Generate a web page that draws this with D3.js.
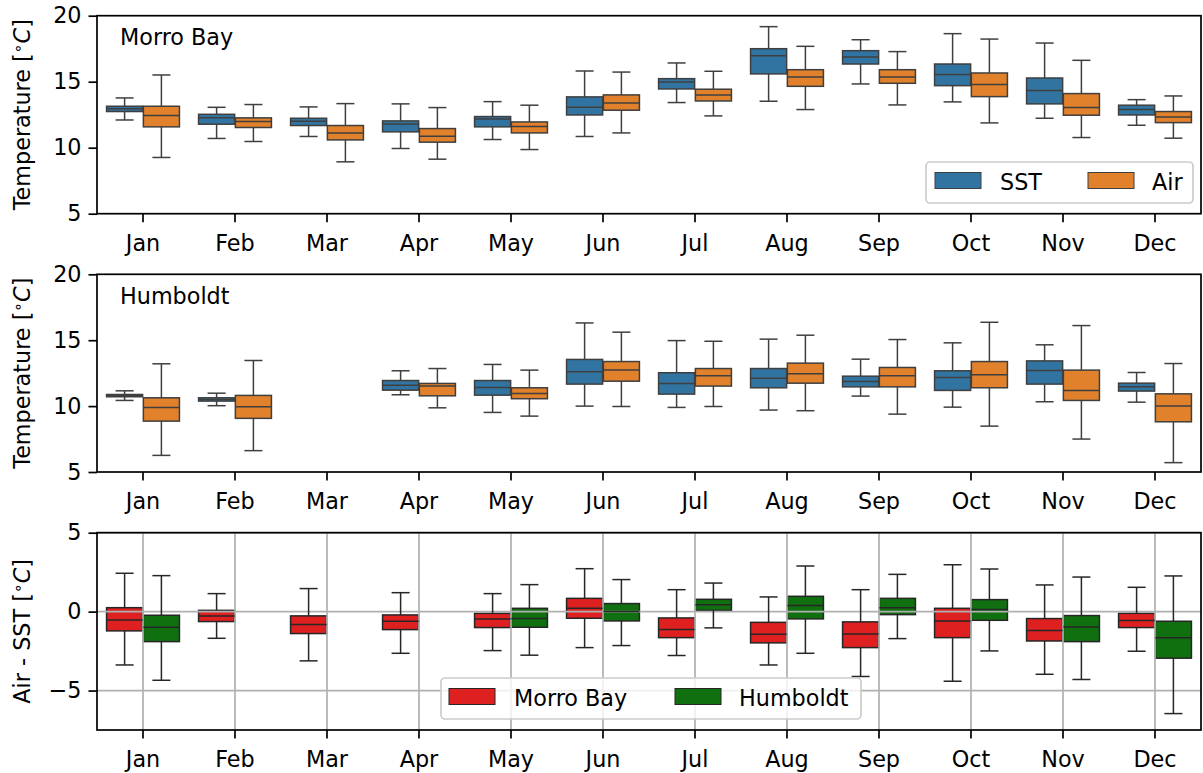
<!DOCTYPE html>
<html>
<head>
<meta charset="utf-8">
<script src="https://cdn.jsdelivr.net/npm/d3@7"></script>
<style>
  body { margin: 0; background: #fff; }
  svg { font-family: "DejaVu Sans", sans-serif; }
</style>
</head>
<body>
<svg id="viz" width="1203" height="773"></svg>
<script>
const width = 1203;
const height = 773;
const svg = d3.select("#viz");

// 月
const months = ["Jan", "Feb", "Mar", "Apr", "May", "Jun", "Jul", "Aug", "Sep", "Oct", "Nov", "Dec"];

// 箱ひげ: [下ひげ, 第1四分位, 中央値, 第3四分位, 上ひげ]
const morroSST = [
  [12.1, 12.74, 12.96, 13.14, 13.77], [10.7, 11.78, 12.26, 12.53, 13.06], [10.85, 11.68, 12.0, 12.23, 13.09],
  [9.94, 11.2, 11.8, 12.03, 13.32], [10.62, 11.58, 12.18, 12.36, 13.49], [10.85, 12.48, 13.06, 13.85, 15.81],
  [13.42, 14.45, 14.98, 15.23, 16.42], [13.52, 15.59, 16.97, 17.5, 19.17], [14.83, 16.34, 16.87, 17.35, 18.18],
  [13.47, 14.7, 15.54, 16.34, 18.64], [12.23, 13.32, 14.33, 15.28, 17.93], [11.7, 12.48, 12.89, 13.22, 13.64]
];
const morroAir = [
  [9.26, 11.58, 12.43, 13.14, 15.51], [10.47, 11.53, 11.98, 12.26, 13.27], [8.93, 10.59, 11.12, 11.68, 13.34],
  [9.13, 10.42, 10.87, 11.45, 13.04], [9.86, 11.12, 11.6, 11.95, 13.22], [11.12, 12.84, 13.39, 14.0, 15.73],
  [12.41, 13.54, 14.0, 14.43, 15.79], [12.89, 14.65, 15.36, 15.91, 17.68], [13.24, 14.88, 15.36, 15.91, 17.28],
  [11.88, 13.87, 14.78, 15.66, 18.23], [10.77, 12.46, 13.04, 14.1, 16.62], [10.72, 11.9, 12.33, 12.74, 13.92]
];
const humSST = [
  [10.43, 10.71, 10.78, 10.88, 11.16], [10.03, 10.38, 10.5, 10.63, 10.98], null,
  [10.86, 11.21, 11.59, 11.94, 12.68], [9.52, 10.83, 11.41, 11.94, 13.16], [10.0, 11.67, 12.6, 13.54, 16.31],
  [9.9, 10.91, 11.72, 12.53, 14.97], [9.7, 11.39, 12.12, 12.85, 15.08], [10.76, 11.46, 11.87, 12.27, 13.56],
  [9.92, 11.19, 12.17, 12.68, 14.8], [10.33, 11.67, 12.7, 13.43, 14.65], [10.3, 11.14, 11.46, 11.74, 12.55]
];
const humAir = [
  [6.26, 8.86, 9.9, 10.63, 13.21], [6.62, 9.07, 9.95, 10.81, 13.46], null,
  [9.87, 10.78, 11.52, 11.72, 12.85], [9.24, 10.56, 10.96, 11.39, 12.73], [9.97, 11.89, 12.73, 13.38, 15.61],
  [9.97, 11.52, 12.3, 12.85, 14.92], [9.65, 11.74, 12.45, 13.26, 15.38], [9.39, 11.46, 12.3, 12.93, 15.05],
  [8.48, 11.39, 12.37, 13.38, 16.36], [7.5, 10.43, 11.19, 12.73, 16.11], [5.71, 8.81, 10.0, 10.93, 13.23]
];
const morroDiff = [
  [-3.38, -1.22, -0.53, 0.25, 2.43], [-1.69, -0.63, -0.27, 0.08, 1.14], [-3.12, -1.39, -0.82, -0.27, 1.46],
  [-2.64, -1.14, -0.61, -0.21, 1.2], [-2.47, -1.01, -0.46, -0.11, 1.14], [-2.28, -0.42, 0.21, 0.84, 2.72],
  [-2.78, -1.65, -1.14, -0.4, 1.39], [-3.38, -1.98, -1.43, -0.68, 0.93], [-4.11, -2.28, -1.41, -0.65, 1.39],
  [-4.41, -1.65, -0.59, 0.21, 2.97], [-3.97, -1.86, -1.2, -0.44, 1.69], [-2.51, -1.01, -0.57, -0.11, 1.54]
];
const humDiff = [
  [-4.35, -1.9, -0.99, -0.23, 2.28], null, null,
  null, [-2.76, -0.99, -0.44, 0.21, 1.71], [-2.15, -0.59, 0.0, 0.51, 2.03],
  [-1.03, 0.08, 0.44, 0.78, 1.81], [-2.64, -0.46, 0.38, 0.97, 2.89], [-1.71, -0.19, 0.25, 0.84, 2.36],
  [-2.49, -0.55, 0.13, 0.76, 2.7], [-4.3, -1.9, -0.97, -0.25, 2.19], [-6.46, -2.95, -1.65, -0.61, 2.26]
];

const tempTicks = [5, 10, 15, 20];
const diffTicks = [-5, 0, 5];

const fontSize = 22.3;
const left = 97, right = 1201;

const x = d3.scaleBand().domain(months).range([left, right]);
const bw = x.bandwidth();

const panels = [
  { top: 15.7, bottom: 213.7, domain: [5, 20], ticks: tempTicks, label: "Morro Bay", ylab: "Temperature",
    series: [{ data: morroSST, color: "#3274a1" }, { data: morroAir, color: "#e1812c" }],
    edge: "#3f3f3f", grid: false },
  { top: 274.3, bottom: 472, domain: [5, 20], ticks: tempTicks, label: "Humboldt", ylab: "Temperature",
    series: [{ data: humSST, color: "#3274a1" }, { data: humAir, color: "#e1812c" }],
    edge: "#3f3f3f", grid: false },
  { top: 532.7, bottom: 730, domain: [-7.5, 5], ticks: diffTicks, label: null, ylab: "Air - SST",
    series: [{ data: morroDiff, color: "#df2020" }, { data: humDiff, color: "#107010" }],
    edge: "#262626", grid: true }
];

panels.forEach(p => {
  const y = d3.scaleLinear().domain(p.domain).range([p.bottom, p.top]);
  const g = svg.append("g");

  // 箱（パッチ）
  const boxW = bw * 0.4 * 0.98;
  p.series.forEach((s, si) => {
    s.data.forEach((d, i) => {
      if (!d) return;
      const cx = x(months[i]) + bw / 2 + (si === 0 ? -bw * 0.2 : bw * 0.2);
      g.append("rect")
        .attr("x", cx - boxW / 2).attr("y", y(d[3]))
        .attr("width", boxW).attr("height", y(d[1]) - y(d[3]))
        .attr("fill", s.color).attr("stroke", p.edge).attr("stroke-width", 1.5);
    });
  });

  // グリッド（パッチの上、線の下）
  if (p.grid) {
    months.forEach(m => {
      g.append("line")
        .attr("x1", x(m) + bw / 2).attr("x2", x(m) + bw / 2)
        .attr("y1", p.top).attr("y2", p.bottom)
        .attr("stroke", "#b0b0b0").attr("stroke-width", 1.7);
    });
    p.ticks.forEach(t => {
      g.append("line")
        .attr("x1", left).attr("x2", right)
        .attr("y1", y(t)).attr("y2", y(t))
        .attr("stroke", "#b0b0b0").attr("stroke-width", 1.7);
    });
  }

  // ひげ・キャップ・中央値
  p.series.forEach((s, si) => {
    s.data.forEach((d, i) => {
      if (!d) return;
      const cx = x(months[i]) + bw / 2 + (si === 0 ? -bw * 0.2 : bw * 0.2);
      const capW = boxW * 0.5;
      const line = (x1, y1, x2, y2) => g.append("line")
        .attr("x1", x1).attr("y1", y1).attr("x2", x2).attr("y2", y2)
        .attr("stroke", p.edge).attr("stroke-width", 1.5);
      line(cx, y(d[0]), cx, y(d[1]));
      line(cx, y(d[3]), cx, y(d[4]));
      line(cx - capW / 2, y(d[0]), cx + capW / 2, y(d[0]));
      line(cx - capW / 2, y(d[4]), cx + capW / 2, y(d[4]));
      line(cx - boxW / 2, y(d[2]), cx + boxW / 2, y(d[2]));
    });
  });

  // 軸
  const yAxis = d3.axisLeft(y).tickValues(p.ticks).tickSize(8.5).tickPadding(7)
    .tickFormat(d => d < 0 ? "\u2212" + Math.abs(d) : d);
  const ya = svg.append("g").attr("transform", `translate(${left},0)`).call(yAxis);
  const xAxis = d3.axisBottom(x).tickSize(8.5).tickPadding(6);
  const xa = svg.append("g").attr("transform", `translate(0,${p.bottom})`).call(xAxis);
  [ya, xa].forEach(a => {
    a.select(".domain").remove();
    a.selectAll(".tick line").attr("stroke", "#000").attr("stroke-width", 1.7);
    a.selectAll(".tick text").attr("fill", "#000").style("font-size", fontSize + "px")
      .style("font-family", "DejaVu Sans");
  });
  xa.selectAll(".tick text").attr("dy", "1.02em");

  // 枠
  svg.append("rect")
    .attr("x", left).attr("y", p.top)
    .attr("width", right - left).attr("height", p.bottom - p.top)
    .attr("fill", "none").attr("stroke", "#000").attr("stroke-width", 1.7);

  // パネル名
  if (p.label) {
    svg.append("text").attr("x", 120).attr("y", p.top + 29.5)
      .style("font-size", fontSize + "px").text(p.label);
  }

  // y軸ラベル
  const yl = svg.append("text")
    .attr("transform", `translate(30,${(p.top + p.bottom) / 2}) rotate(-90)`)
    .attr("text-anchor", "middle")
    .style("font-size", fontSize + "px");
  yl.append("tspan").text(p.ylab + " [");
  yl.append("tspan").attr("dy", -7).style("font-size", (fontSize * 0.7) + "px").text("\u2218");
  yl.append("tspan").attr("dy", 7).style("font-style", "italic").text("C");
  yl.append("tspan").text("]");
});

// 凡例
function legend(bx, by, bwid, bh, items) {
  const g = svg.append("g");
  g.append("rect").attr("x", bx).attr("y", by).attr("width", bwid).attr("height", bh)
    .attr("rx", 4).attr("fill", "#fff").attr("fill-opacity", 0.8)
    .attr("stroke", "#cccccc").attr("stroke-width", 1.7);
  items.forEach(it => {
    g.append("rect").attr("x", it.px).attr("y", by + 10.5).attr("width", 46).attr("height", 16)
      .attr("fill", it.color).attr("stroke", it.edge).attr("stroke-width", 1);
    g.append("text").attr("x", it.tx).attr("y", by + 27.5)
      .style("font-size", fontSize + "px").text(it.name);
  });
}
legend(926, 162, 267, 41, [
  { name: "SST", color: "#3274a1", edge: "#3f3f3f", px: 935, tx: 1000 },
  { name: "Air", color: "#e1812c", edge: "#3f3f3f", px: 1088, tx: 1152 }
]);
legend(441, 678, 420, 41, [
  { name: "Morro Bay", color: "#df2020", edge: "#262626", px: 449, tx: 514 },
  { name: "Humboldt", color: "#107010", edge: "#262626", px: 675, tx: 739 }
]);
</script>
</body>
</html>
